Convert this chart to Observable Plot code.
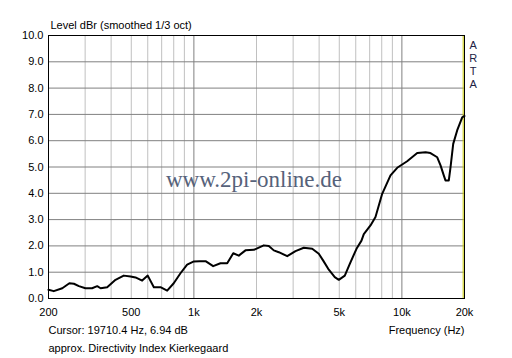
<!DOCTYPE html>
<html><head><meta charset="utf-8">
<script src="https://cdn.jsdelivr.net/npm/d3@7"></script>
<script src="https://cdn.jsdelivr.net/npm/@observablehq/plot@0.6"></script>
<style>html,body{margin:0;padding:0;background:#fff}svg{display:block}</style>
</head><body><div id="chart"></div>
<script>
// Directivity index curve (Hz, dB)
const freq = [200, 212, 233, 252, 265, 280, 301, 324, 343, 356, 383, 420, 460, 496, 524, 564, 600, 642, 691, 744, 800, 862, 928, 1000, 1064, 1138, 1238, 1342, 1446, 1546, 1644, 1770, 1942, 2168, 2292, 2422, 2560, 2810, 3080, 3376, 3706, 3986, 4186, 4424, 4758, 4974, 5316, 5618, 6050, 6394, 6560, 7064, 7466, 8040, 8816, 9496, 10600, 11850, 13000, 13720, 14790, 15340, 15900, 16200, 16810, 17130, 17650, 18440, 19500, 20000];
const level = [0.33, 0.28, 0.39, 0.58, 0.56, 0.47, 0.39, 0.39, 0.47, 0.39, 0.43, 0.71, 0.87, 0.84, 0.80, 0.68, 0.87, 0.43, 0.43, 0.30, 0.58, 0.96, 1.29, 1.41, 1.42, 1.42, 1.23, 1.34, 1.34, 1.72, 1.63, 1.83, 1.85, 2.02, 2.00, 1.83, 1.76, 1.61, 1.80, 1.93, 1.89, 1.70, 1.44, 1.13, 0.81, 0.71, 0.87, 1.32, 1.89, 2.20, 2.45, 2.78, 3.10, 3.98, 4.68, 4.97, 5.22, 5.53, 5.56, 5.53, 5.37, 5.06, 4.68, 4.49, 4.49, 4.99, 5.88, 6.39, 6.89, 6.94];

const xTicks = [200, 500, 1000, 2000, 5000, 10000, 20000];
const xTickLabels = ["200", "500", "1k", "2k", "5k", "10k", "20k"];
const yTicks = [0, 1, 2, 3, 4, 5, 6, 7, 8, 9, 10];
const minorGridX = [300, 400, 500, 600, 700, 800, 900, 2000, 3000, 4000, 5000, 6000, 7000, 8000, 9000];
const majorGridX = [1000, 10000];
const gridY = [1, 2, 3, 4, 5, 6, 7, 8, 9];
const cursorFreq = [19710.4];

const titleText = "Level dBr (smoothed 1/3 oct)";
const cursorText = "Cursor: 19710.4 Hz, 6.94 dB";
const noteText = "approx. Directivity Index Kierkegaard";
const xLabelText = "Frequency (Hz)";
const brandText = "A\nR\nT\nA";
const watermarkText = "www.2pi-online.de";

const data = freq.map((f, i) => ({f, v: level[i]}));
const xLabelMap = new Map(xTicks.map((t, i) => [t, xTickLabels[i]]));

const chart = Plot.plot({
  width: 512,
  height: 358,
  marginLeft: 48,
  marginRight: 48,
  marginTop: 35,
  marginBottom: 60,
  style: {fontFamily: "'Liberation Sans', Arial, sans-serif", fontSize: "11px", color: "#000", background: "#fff", overflow: "visible"},
  x: {type: "log", domain: [200, 20000]},
  y: {domain: [0, 10]},
  marks: [
    Plot.ruleX(minorGridX, {stroke: "#c0c0c0", strokeWidth: 1}),
    Plot.ruleX(majorGridX, {stroke: "#808080", strokeWidth: 1}),
    Plot.ruleY(gridY, {stroke: "#808080", strokeWidth: 1}),
    Plot.text([watermarkText], {frameAnchor: "middle", dx: -2.5, dy: 12.8, fontFamily: "'Liberation Serif', 'Times New Roman', serif", fontSize: 23, fill: "#56627a"}),
    Plot.ruleX(cursorFreq, {stroke: "#c8c800", strokeWidth: 1}),
    Plot.line(data, {x: "f", y: "v", stroke: "#000", strokeWidth: 2, strokeLinejoin: "round"}),
    Plot.frame({stroke: "#000"}),
    Plot.axisX({ticks: xTicks, tickFormat: d => xLabelMap.get(d), tickSize: 0, tickPadding: 10, label: null, fill: "#000"}),
    Plot.axisY({ticks: yTicks, tickFormat: d => d.toFixed(1), tickSize: 0, tickPadding: 5, label: null, fill: "#000"}),
    Plot.text([titleText], {frameAnchor: "top-left", textAnchor: "start", lineAnchor: "bottom", dx: 2, dy: -6.3, fill: "#000"}),
    Plot.text([cursorText], {frameAnchor: "bottom-left", textAnchor: "start", lineAnchor: "bottom", dx: 0, dy: 35.7, fill: "#000"}),
    Plot.text([noteText], {frameAnchor: "bottom-left", textAnchor: "start", lineAnchor: "bottom", dx: 0, dy: 53, fill: "#000"}),
    Plot.text([xLabelText], {frameAnchor: "bottom-right", textAnchor: "end", lineAnchor: "bottom", dx: 0, dy: 35.7, fill: "#000"}),
    Plot.text([brandText], {frameAnchor: "top-right", textAnchor: "middle", lineAnchor: "top", lineHeight: 13 / 11, dx: 8.7, dy: 3.9, fill: "#222244"})
  ]
});
document.getElementById("chart").appendChild(chart);
</script>
</body></html>
